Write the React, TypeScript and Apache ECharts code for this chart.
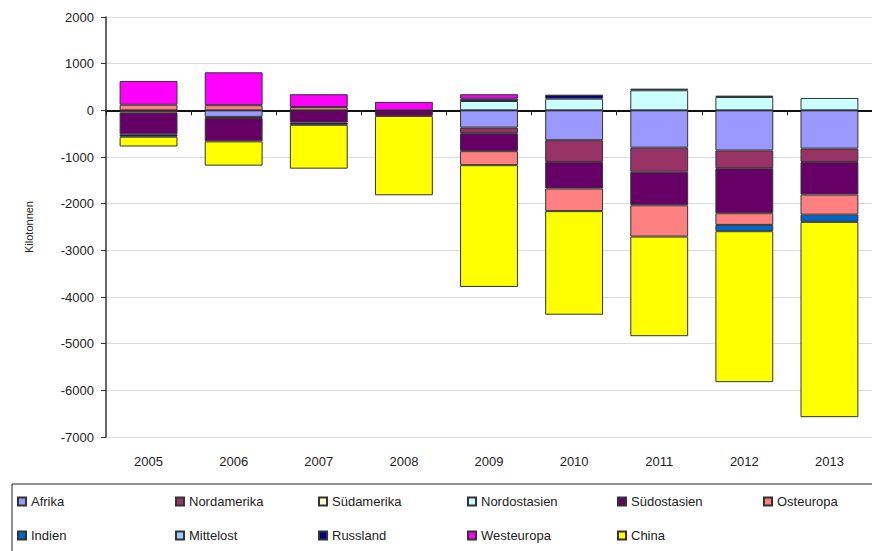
import React, { useEffect, useRef } from "react";
import * as echarts from "echarts";

const years = ["2005", "2006", "2007", "2008", "2009", "2010", "2011", "2012", "2013"];
const yTicks = { min: -7000, max: 2000, interval: 1000 };

const afrika = [null, -140, null, null, -370, -640, -800, -860, -820];
const nordamerika = [-45, -25, null, null, -120, -465, -515, -380, -285];
const suedamerika = [null, null, null, null, null, null, null, null, null];
const nordostasien = [null, null, null, null, 200, 250, 430, 285, 265];
const suedostasien = [-470, -500, -260, -120, -385, -570, -720, -965, -700];
const osteuropa = [120, 110, 70, null, -300, -485, -670, -250, -430];
const indien = [null, null, null, null, null, null, null, -135, -155];
const mittelost = [null, null, null, null, null, null, null, null, null];
const russland = [-50, null, -50, null, 50, 85, 35, 30, null];
const westeuropa = [510, 705, 275, 180, 95, null, null, null, null];
const china = [-210, -520, -940, -1700, -2610, -2220, -2135, -3235, -4185];

const seriesNames = [
  "Afrika", "Nordamerika", "Südamerika", "Nordostasien", "Südostasien", "Osteuropa",
  "Indien", "Mittelost", "Russland", "Westeuropa", "China",
];
const seriesData = [
  afrika, nordamerika, suedamerika, nordostasien, suedostasien, osteuropa,
  indien, mittelost, russland, westeuropa, china,
];
const seriesColors = [
  "#9999FF", "#993366", "#FFFFCC", "#CCFFFF", "#660066", "#FF8080",
  "#0066CC", "#99CCFF", "#000080", "#FF00FF", "#FFFF00",
];

// legend layout (x, y of each item)
const legendPos: [number, number][] = [
  [17, 495], [175, 495], [318, 495], [467, 495], [617, 495], [763, 495],
  [17, 529], [175, 529], [318, 529], [467, 529], [617, 529],
];

const FONT = "'Liberation Sans', Arial, sans-serif";

export default function App() {
  const ref = useRef<HTMLDivElement>(null);
  useEffect(() => {
    if (!ref.current) return;
    const chart = echarts.init(ref.current, null, { renderer: "svg" });
    const option: any = {
      animation: false,
      backgroundColor: "#fff",
      textStyle: { fontFamily: FONT },
      grid: { left: 106, right: 0, top: 17, bottom: 114, containLabel: false },
      xAxis: [
        {
          type: "category",
          data: years,
          axisLine: { onZero: true, lineStyle: { color: "#111", width: 2 } },
          axisTick: { show: true, inside: false, length: 5, lineStyle: { color: "#222" } },
          axisLabel: { show: false },
          splitLine: { show: false },
        },
        {
          type: "category",
          data: years,
          position: "bottom",
          axisLine: { show: false, onZero: false },
          axisTick: { show: false },
          axisLabel: { show: true, margin: 18, fontSize: 13, color: "#222", fontFamily: FONT },
          splitLine: { show: false },
        },
      ],
      yAxis: {
        type: "value",
        min: yTicks.min,
        max: yTicks.max,
        interval: yTicks.interval,
        name: "Kilotonnen",
        nameLocation: "middle",
        nameGap: 72,
        nameTextStyle: { fontSize: 11, color: "#222", fontFamily: FONT },
        axisLine: { show: true, lineStyle: { color: "#333", width: 1.5 } },
        axisTick: { show: true, length: 5, lineStyle: { color: "#333" } },
        axisLabel: {
          margin: 12,
          fontSize: 13,
          color: "#222",
          fontFamily: FONT,
          formatter: (v: number) => String(v),
        },
        splitLine: { show: true, lineStyle: { color: "#dcdcdc", width: 1 } },
      },
      legend: seriesNames.map((n, i) => ({
        data: [n],
        left: legendPos[i][0],
        top: legendPos[i][1],
        padding: 0,
        itemWidth: 8,
        itemHeight: 8,
        itemGap: 0,
        icon: "rect",
        selectedMode: false,
        textStyle: { fontSize: 13, color: "#222", fontFamily: FONT, padding: [0, 0, 0, 0] },
      })),
      graphic: [
        {
          type: "rect",
          shape: { x: 12, y: 484, width: 880, height: 80 },
          style: { fill: "none", stroke: "#222", lineWidth: 1 },
          silent: true,
        },
      ],
      series: seriesNames.map((n, i) => ({
        name: n,
        type: "bar",
        stack: "total",
        xAxisIndex: 0,
        barWidth: "68%",
        data: seriesData[i],
        itemStyle: { color: seriesColors[i], borderColor: "#333", borderWidth: 1 },
      })),
    };
    chart.setOption(option);
    return () => chart.dispose();
  }, []);
  return (
    <div
      ref={ref}
      style={{ position: "absolute", left: 0, top: 0, width: 872, height: 551, background: "#fff" }}
    />
  );
}
